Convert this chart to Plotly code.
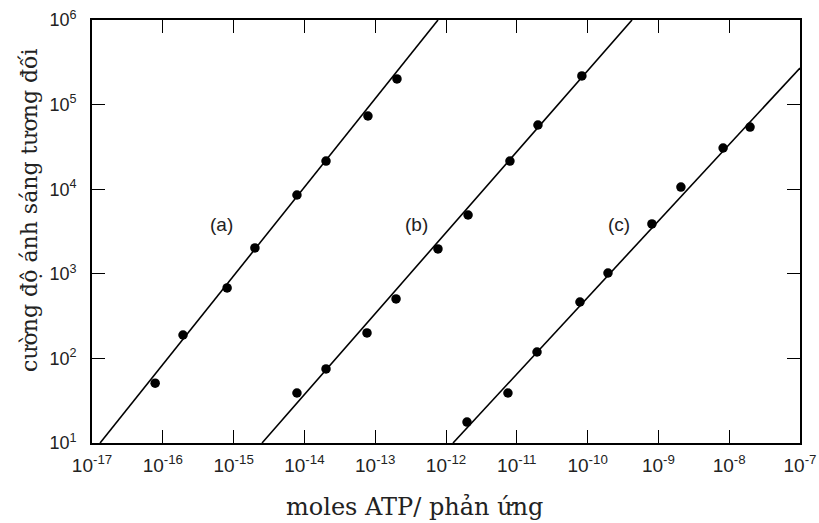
import math
import plotly.graph_objects as go

# Data (moles ATP per reaction, relative light intensity)
a_x = [7.8e-17, 1.93e-16, 8.1e-16, 2.0e-15, 7.85e-15, 2.02e-14, 7.9e-14, 2.03e-13]
a_y = [51, 189, 680, 2020, 8540, 21500, 73300, 201000]

b_x = [7.85e-15, 2.02e-14, 7.66e-14, 1.97e-13, 7.7e-13, 2.05e-12, 8.0e-12, 1.99e-11, 8.3e-11]
b_y = [39, 75, 200, 504, 1965, 4955, 21500, 57400, 218000]

c_x = [1.98e-12, 7.5e-12, 1.93e-11, 7.8e-11, 1.94e-10, 8.1e-10, 2.08e-9, 8.2e-9, 1.97e-8]
c_y = [17.7, 39, 119, 464, 1022, 3880, 10600, 30700, 54300]

# Fitted lines (endpoints)
fit_a_x = [1.30e-17, 7.71e-13]
fit_a_y = [10, 1e6]
fit_b_x = [2.52e-15, 4.24e-10]
fit_b_y = [10, 1e6]
fit_c_x = [1.256e-12, 1e-7]
fit_c_y = [10, 2.71e5]

series_labels = ["(a)", "(b)", "(c)"]
label_x = [6.85e-16, 3.77e-13, 2.78e-10]
label_y = [3780, 3780, 3780]

x_tickvals = [1e-17, 1e-16, 1e-15, 1e-14, 1e-13, 1e-12, 1e-11, 1e-10, 1e-9, 1e-8, 1e-7]
x_ticktext = ["10<sup>-17</sup>", "10<sup>-16</sup>", "10<sup>-15</sup>", "10<sup>-14</sup>",
              "10<sup>-13</sup>", "10<sup>-12</sup>", "10<sup>-11</sup>", "10<sup>-10</sup>",
              "10<sup>-9</sup>", "10<sup>-8</sup>", "10<sup>-7</sup>"]
y_tickvals = [1e1, 1e2, 1e3, 1e4, 1e5, 1e6]
y_ticktext = ["10<sup>1</sup>", "10<sup>2</sup>", "10<sup>3</sup>", "10<sup>4</sup>",
              "10<sup>5</sup>", "10<sup>6</sup>"]

x_title = "moles ATP/ phản ứng"
y_title = "cường độ ánh sáng tương đối"

fig = go.Figure()

for fx, fy in [(fit_a_x, fit_a_y), (fit_b_x, fit_b_y), (fit_c_x, fit_c_y)]:
    fig.add_trace(go.Scatter(x=fx, y=fy, mode="lines",
                             line=dict(color="black", width=1.6),
                             showlegend=False, hoverinfo="skip"))

for px, py in [(a_x, a_y), (b_x, b_y), (c_x, c_y)]:
    fig.add_trace(go.Scatter(x=px, y=py, mode="markers",
                             marker=dict(color="black", size=9.5),
                             showlegend=False))

for t, lx, ly in zip(series_labels, label_x, label_y):
    fig.add_annotation(x=math.log10(lx), y=math.log10(ly), xref="x", yref="y", text=t,
                       showarrow=False,
                       font=dict(family="Liberation Sans, Arial, sans-serif", size=19, color="#222"))

serif = "DejaVu Serif, Liberation Serif, serif"
fig.add_annotation(x=0.455, y=-0.151, xref="paper", yref="paper", text=x_title,
                   showarrow=False, xanchor="center", yanchor="middle",
                   font=dict(family=serif, size=24, color="#222"))
fig.add_annotation(x=-0.0876, y=0.551, xref="paper", yref="paper", text=y_title,
                   showarrow=False, xanchor="center", yanchor="middle", textangle=-90,
                   font=dict(family=serif, size=22, color="#222"))

axis_common = dict(showgrid=False, zeroline=False, showline=True, linecolor="black",
                   linewidth=1.8, mirror="ticks", ticks="inside", ticklen=13,
                   tickwidth=1.4, tickcolor="black", automargin=False)

fig.update_xaxes(type="log", range=[-17, -7], tickvals=x_tickvals, ticktext=x_ticktext,
                 ticklabelstandoff=4,
                 tickfont=dict(family="Liberation Sans, Arial, sans-serif", size=19, color="#222"),
                 **axis_common)
fig.update_yaxes(type="log", range=[1, 6], tickvals=y_tickvals, ticktext=y_ticktext,
                 ticklabelstandoff=10,
                 tickfont=dict(family="Liberation Sans, Arial, sans-serif", size=18, color="#222"),
                 **axis_common)

fig.update_layout(width=819, height=523, margin=dict(l=92, r=19, t=20, b=80),
                  plot_bgcolor="white", paper_bgcolor="white")

fig.write_html("out.html")
